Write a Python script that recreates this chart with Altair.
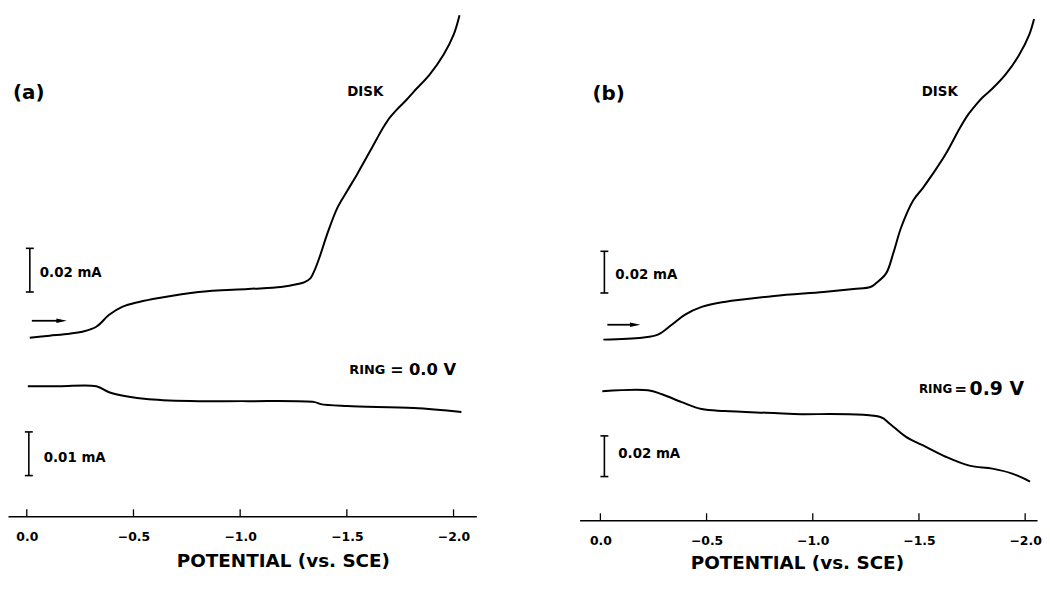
import altair as alt
import pandas as pd

FONT = "DejaVu Sans"

# ---------------- data (y = trace height in plot units) -------------
TICKS = [0.0, -0.5, -1.0, -1.5, -2.0]

# panel (a)  ring held at 0.0 V
a_disk_E = [-0.014, -0.107, -0.200, -0.260, -0.326, -0.386, -0.447, -0.526, -0.619, -0.805,
            -1.037, -1.191, -1.270, -1.302, -1.330, -1.349, -1.372, -1.409, -1.456, -1.502,
            -1.549, -1.609, -1.642, -1.674, -1.702, -1.735, -1.781, -1.814, -1.888, -1.953,
            -2.000, -2.028]
a_disk_I = [180, 182, 184, 186, 191, 203, 211, 216, 220, 226,
            229, 231, 234, 236, 240, 248, 261, 285, 311, 328,
            345, 368, 381, 393, 402, 410, 420, 428, 445, 465,
            485, 505]
a_ring_E = [-0.005, -0.153, -0.326, -0.386, -0.465, -0.572, -0.805, -1.037, -1.349, -1.377,
            -1.502, -1.814, -2.037]
a_ring_I = [131, 131, 131, 125, 121, 118, 116, 116, 115, 113,
            111, 109, 105]

# panel (b)  ring held at 0.9 V
b_disk_E = [-0.014, -0.196, -0.271, -0.336, -0.397, -0.477, -0.584, -0.818, -1.051, -1.192,
            -1.271, -1.299, -1.346, -1.379, -1.416, -1.472, -1.519, -1.565, -1.626, -1.692,
            -1.729, -1.766, -1.799, -1.846, -1.907, -1.972, -2.019, -2.042]
b_disk_I = [182, 184, 187, 197, 207, 215, 220, 226, 230, 233,
            235, 239, 249, 269, 295, 322, 335, 349, 369, 395,
            408, 418, 426, 435, 449, 469, 489, 505]
b_ring_E = [-0.009, -0.224, -0.290, -0.383, -0.477, -0.584, -0.818, -0.911, -1.318, -1.364,
            -1.439, -1.533, -1.626, -1.738, -1.846, -1.939, -2.023]
b_ring_I = [130, 131, 127, 119, 112, 110, 108, 107, 104, 97,
            84, 74, 64, 55, 52, 47, 39]


def one(text):
    return pd.DataFrame({"t": [text]})


def panel(tag, disk_E, disk_I, ring_E, ring_I, ring_v, bar_low, dom, W, H, lay):
    xs = alt.Scale(domain=dom, nice=False, zero=False)
    ys = alt.Scale(domain=[0, H], nice=False, zero=False)
    axis = alt.Axis(values=TICKS, format=".1f", ticks=False, grid=False,
                    domainColor="black", domainWidth=1.6,
                    labelFont=FONT, labelFontWeight="bold", labelFontSize=12.5,
                    labelColor="black", labelPadding=14,
                    title="POTENTIAL (vs. SCE)", titleFont=FONT, titleFontWeight="bold",
                    titleFontSize=18.5, titleColor="black", titleX=lay["tx"], titleY=lay["ty"],
                    titleAlign="center", titleBaseline="middle")

    df = pd.concat([
        pd.DataFrame({"E": disk_E, "I": disk_I, "trace": "disk"}),
        pd.DataFrame({"E": ring_E, "I": ring_I, "trace": "ring"}),
    ])
    lines = alt.Chart(df).mark_line(color="black", strokeWidth=2, interpolate="catmull-rom").encode(
        x=alt.X("E:Q", scale=xs, axis=axis),
        y=alt.Y("I:Q", scale=ys, axis=None),
        detail="trace:N",
    )
    ticks = alt.Chart(pd.DataFrame({"E": TICKS})).mark_rule(color="black", strokeWidth=1.3).encode(
        x=alt.X("E:Q", scale=xs), y=alt.value(H - 7), y2=alt.value(H))

    def txt(s, x, y, size, align="left"):
        return alt.Chart(one(s)).mark_text(font=FONT, fontWeight="bold", fontSize=size,
                                           color="black", align=align, baseline="middle").encode(
            text="t:N", x=alt.value(x), y=alt.value(y))

    def vbar(x, y1, y2):
        v = alt.Chart(one("")).mark_rule(color="black", strokeWidth=1.6).encode(
            x=alt.value(x), y=alt.value(y1), y2=alt.value(y2))
        c1 = alt.Chart(one("")).mark_rule(color="black", strokeWidth=1.6).encode(
            x=alt.value(x - 4), x2=alt.value(x + 4), y=alt.value(y1))
        c2 = alt.Chart(one("")).mark_rule(color="black", strokeWidth=1.6).encode(
            x=alt.value(x - 4), x2=alt.value(x + 4), y=alt.value(y2))
        return [v, c1, c2]

    ax0, ax1, ay = lay["arrow"]
    arrow_line = alt.Chart(one("")).mark_rule(color="black", strokeWidth=1.8).encode(
        x=alt.value(ax0), x2=alt.value(ax1 - 6), y=alt.value(ay))
    arrow_head = alt.Chart(one("")).mark_point(
        shape="M-1,-0.45L1,0L-1,0.45Z", filled=True, color="black", opacity=1, size=110).encode(
        x=alt.value(ax1 - 5), y=alt.value(ay))

    rx, ry = lay["ring"]
    layers = [lines, ticks,
              txt(tag, *lay["tag"], 20),
              txt("DISK", *lay["disk"], 13.5, "center"),
              txt("RING", rx, ry, lay["ringsize"]),
              txt("=", lay["eqx"], ry, lay["eqsize"], "center"),
              txt(ring_v, lay["ringvx"], ry, lay["ringvsize"]),
              txt("0.02 mA", *lay["lab1"], 13.5),
              txt(bar_low, *lay["lab2"], 13.5),
              arrow_line, arrow_head]
    layers += vbar(*lay["bar1"])
    layers += vbar(*lay["bar2"])
    return alt.layer(*layers).properties(width=W, height=H)


lay_a = dict(tx=277, ty=45, tag=(5, 84), disk=(360, 82), ring=(344, 363), ringsize=13,
             eqx=392, eqsize=16, ringvx=404, ringvsize=16.5,
             lab1=(32, 265), lab2=(36, 451), bar1=(22, 240, 284), bar2=(21, 425, 469),
             arrow=(24, 59, 313))
lay_b = dict(tx=219, ty=43, tag=(13, 85), disk=(363, 82), ring=(342, 382), ringsize=12,
             eqx=384, eqsize=15, ringvx=393, ringvsize=19,
             lab1=(36, 267), lab2=(39, 447), bar1=(25, 243, 285), bar2=(25, 429, 470),
             arrow=(28, 61, 317))

pa = panel("(a)", a_disk_E, a_disk_I, a_ring_E, a_ring_I, "0.0 V", "0.01 mA",
           [0.088, -2.107], 472, 510, lay_a)
pb = panel("(b)", b_disk_E, b_disk_I, b_ring_E, b_ring_I, "0.9 V", "0.02 mA",
           [0.098, -2.056], 461, 514, lay_b)

chart = alt.hconcat(pa, pb, spacing=104).properties(padding=0).configure_view(stroke=None)

chart.save("out.html", embed_options={"renderer": "svg", "actions": False})
